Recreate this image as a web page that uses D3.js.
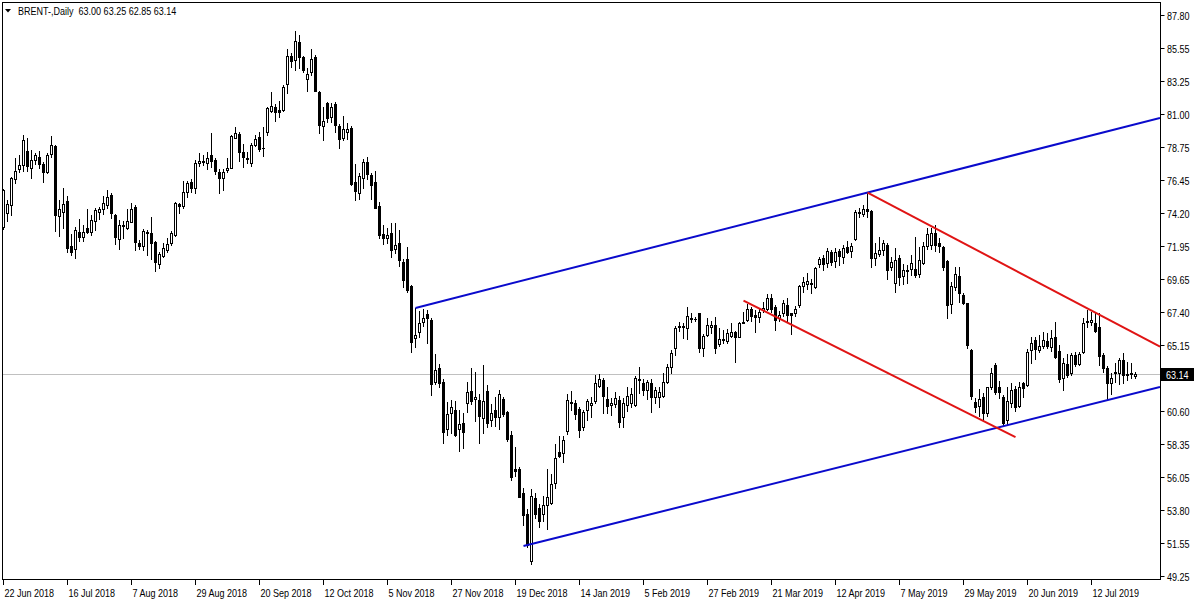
<!DOCTYPE html>
<html><head><meta charset="utf-8">
<script src="https://cdn.jsdelivr.net/npm/d3@7"></script>
<style>
html,body{margin:0;padding:0;background:#fff;}
svg{display:block;}
text{font-family:"Liberation Sans",Arial,sans-serif;font-size:11px;fill:#000;}
</style></head><body>
<svg id="chart" width="1200" height="600"></svg>
<script>
const symbol = "BRENT-,Daily";
const open = [73.21,74.21,74.72,76.51,77.24,77.47,78.45,77.31,77.81,78.04,77.54,77.03,78.22,78.80,74.01,74.24,75.02,71.92,71.70,72.91,72.56,73.14,72.86,73.62,74.28,74.44,74.74,75.43,74.06,72.38,73.37,73.14,73.60,74.58,72.11,71.90,72.91,72.80,72.18,70.66,71.26,71.65,72.15,72.68,74.79,74.70,75.61,76.30,75.93,77.60,77.76,77.65,78.18,77.83,77.03,76.62,77.15,77.31,79.37,79.62,78.38,77.99,77.65,78.86,79.39,78.68,79.78,81.22,81.48,81.25,81.29,83.03,84.97,84.73,85.92,84.89,83.37,83.89,84.89,82.51,80.19,81.74,80.79,81.67,80.19,79.36,79.79,80.05,76.30,75.54,76.57,77.69,76.78,76.33,74.66,72.75,72.51,72.84,71.72,72.15,70.84,71.01,69.17,65.59,65.99,66.69,67.26,66.83,62.58,63.54,62.61,59.36,60.44,60.63,59.32,59.75,61.15,61.94,61.39,61.34,60.10,61.99,59.96,60.68,60.20,61.42,60.51,58.96,56.57,56.57,54.97,53.52,50.30,54.61,53.90,53.52,54.11,54.26,55.62,57.76,57.72,59.24,61.15,61.16,60.73,59.47,60.66,61.00,61.28,62.31,62.72,61.39,61.00,61.05,61.35,60.20,61.00,61.12,61.00,62.79,62.54,62.03,62.54,61.58,61.58,61.62,62.61,63.64,64.90,66.38,66.38,66.27,67.00,66.93,67.30,64.90,65.81,66.34,66.50,65.19,65.47,65.42,65.77,66.04,65.70,66.66,66.84,67.60,67.19,67.07,67.53,67.58,68.33,67.76,66.96,67.35,67.87,67.30,67.30,67.87,69.20,69.32,69.36,69.09,70.69,71.08,70.74,71.54,70.92,71.58,71.15,71.88,71.58,72.41,74.22,74.10,74.45,74.36,71.08,71.38,71.65,71.99,70.46,69.41,71.08,69.86,70.28,70.33,70.33,70.00,70.78,71.93,71.99,72.80,72.16,71.84,70.92,67.94,69.13,69.86,68.56,67.99,64.78,61.18,60.93,61.53,60.48,62.26,63.75,62.26,61.57,59.97,61.16,62.10,60.93,62.49,62.38,64.78,65.47,64.78,65.06,65.42,64.97,65.70,64.74,62.83,63.82,63.18,64.44,63.82,64.67,66.73,66.73,66.66,66.38,64.44,63.52,62.54,63.18,63.22,64.09,63.13,63.13,63.00];
const high = [75.85,75.09,76.64,77.95,78.18,79.55,79.37,78.52,78.34,78.45,77.72,78.31,79.51,78.85,75.09,75.89,75.34,72.75,73.25,73.78,73.37,74.49,74.06,74.56,74.60,75.38,75.77,75.54,74.10,73.71,73.67,74.49,74.86,74.74,72.34,73.09,73.02,73.89,72.27,71.49,72.11,72.45,72.98,74.97,74.90,76.41,76.39,76.53,77.83,78.29,78.18,78.41,79.71,77.95,77.22,77.22,77.95,79.55,80.10,79.73,78.91,78.41,79.02,79.55,79.78,80.10,81.50,82.53,81.66,81.89,82.99,85.46,85.20,86.68,86.40,85.01,84.13,85.44,85.08,82.58,81.46,81.82,81.74,81.82,80.31,80.86,80.36,80.14,77.57,76.97,77.93,78.05,76.97,77.09,74.94,73.39,73.15,73.51,73.51,73.03,71.01,71.84,69.22,67.67,67.43,67.59,67.55,66.95,64.49,63.85,62.82,61.23,61.34,61.30,60.63,60.44,62.58,63.54,63.30,61.77,63.73,62.35,61.10,61.58,62.06,61.58,60.58,59.24,58.12,56.76,55.33,53.83,55.26,54.95,54.23,54.78,56.57,56.26,58.29,58.84,58.84,61.77,61.93,61.35,60.89,60.66,61.39,61.57,63.06,63.11,62.83,62.26,61.46,61.92,61.62,61.46,62.26,62.15,62.99,63.59,62.77,62.72,62.77,62.26,62.26,63.18,63.82,64.78,66.43,66.73,66.61,67.71,67.35,67.07,67.35,65.88,67.00,66.77,67.07,66.27,66.16,66.20,66.61,66.09,66.73,67.42,67.92,67.76,67.53,67.64,68.10,68.63,68.63,67.87,67.48,68.22,68.33,67.35,67.80,69.25,69.77,70.05,69.64,70.51,71.19,71.31,71.81,71.65,71.77,71.74,71.99,72.29,72.11,74.40,74.52,74.74,75.60,74.40,72.11,72.57,72.34,72.11,71.19,71.77,71.31,70.69,70.62,71.31,72.52,71.88,72.22,73.14,73.14,73.37,72.45,71.93,70.97,69.48,70.46,70.51,68.67,68.03,64.83,61.46,62.08,61.80,62.26,63.52,63.87,62.67,61.69,62.26,62.49,62.31,62.61,62.61,64.83,65.70,65.70,65.81,66.04,65.97,66.16,66.73,65.12,64.21,64.51,64.55,64.62,64.67,66.96,67.53,67.42,67.30,67.30,64.55,63.68,63.22,63.87,64.21,64.60,63.98,63.87,63.25];
const low = [73.10,73.67,74.08,76.23,77.03,77.10,77.10,76.62,77.54,77.26,76.30,76.96,78.06,72.98,72.63,73.18,71.49,71.31,71.12,72.27,72.27,72.80,72.68,73.02,73.78,74.10,74.54,73.87,72.06,71.72,72.45,73.09,73.55,71.65,71.72,71.65,71.31,71.03,70.21,70.39,71.15,71.53,71.99,72.63,74.17,74.56,75.29,75.66,75.54,77.44,77.49,77.22,77.33,76.85,75.59,75.77,77.03,77.26,79.32,77.79,77.33,77.60,77.44,78.80,78.48,78.13,79.55,81.11,80.54,80.81,81.20,82.46,84.25,84.01,84.13,83.89,82.60,83.65,82.58,79.71,79.19,80.43,80.43,79.76,78.64,79.19,79.31,76.14,75.06,75.18,75.90,76.50,75.18,74.52,72.51,72.08,72.13,71.20,71.44,70.53,69.10,68.79,64.64,64.97,65.69,66.45,65.23,61.70,62.42,62.23,58.41,58.91,59.08,58.84,57.81,58.05,60.51,61.10,59.91,58.41,59.08,59.48,59.55,59.55,59.32,60.27,58.53,55.86,56.14,54.66,52.75,51.27,50.08,53.23,52.64,53.04,52.51,54.19,55.33,57.41,57.10,59.00,60.65,60.02,58.83,59.28,59.97,60.20,61.12,62.26,60.48,60.43,60.31,60.89,59.51,59.51,60.61,60.89,60.93,61.80,61.69,61.42,60.54,61.12,60.85,61.58,62.54,63.18,64.44,66.11,65.58,65.51,66.73,66.80,64.67,64.39,65.74,65.93,64.55,65.06,65.24,65.24,65.70,63.98,65.65,66.61,66.77,66.80,66.04,66.73,67.42,67.53,67.42,66.16,66.80,67.12,66.73,65.88,67.12,67.76,68.79,68.95,68.67,69.02,70.51,70.28,70.51,70.62,70.51,70.62,70.74,71.42,71.19,72.34,73.94,73.99,73.94,70.51,70.62,71.24,71.31,69.64,70.28,68.79,69.25,69.29,69.36,69.93,69.77,69.82,70.69,71.70,71.70,71.61,71.54,70.28,66.96,67.30,68.90,68.10,67.94,64.90,61.39,60.54,60.25,59.97,60.25,62.08,61.76,61.46,59.63,59.63,60.84,60.61,60.84,61.57,62.31,63.87,64.14,64.67,64.90,64.90,64.74,64.21,62.61,62.03,62.90,63.06,63.68,63.75,64.55,66.38,66.50,66.04,63.75,63.29,61.35,61.76,62.61,62.44,62.54,62.72,62.83,62.85];
const close = [75.77,74.81,76.57,77.08,77.49,79.18,77.40,77.83,78.18,77.54,77.03,78.18,78.84,74.06,74.44,74.81,71.76,71.53,73.02,72.52,72.91,72.86,73.71,74.38,74.49,74.86,75.31,74.17,72.52,73.37,73.28,73.64,74.47,72.18,71.95,72.96,72.80,72.11,70.80,71.35,71.81,72.04,72.80,74.86,74.65,75.61,76.25,75.89,77.65,77.76,77.67,77.97,77.76,77.10,76.57,76.99,77.26,79.48,79.67,78.41,78.06,77.88,78.86,79.28,78.59,78.64,81.38,81.55,81.11,81.16,82.83,84.98,84.61,85.99,84.89,84.01,83.73,84.80,82.60,80.26,80.50,80.74,81.51,80.26,79.29,79.95,80.00,76.19,75.71,76.73,77.69,76.85,76.09,74.54,72.65,72.51,72.70,71.65,72.01,70.94,69.58,68.93,65.35,65.81,66.66,66.99,66.99,62.42,63.42,62.54,59.15,60.39,60.87,58.96,59.67,59.15,61.89,61.27,61.53,60.27,61.30,59.75,60.44,60.15,61.77,60.39,58.65,56.05,56.45,54.71,53.42,51.37,54.78,53.52,53.04,54.11,54.71,55.57,57.34,57.48,58.60,61.34,61.22,60.38,59.28,60.54,61.28,61.12,62.54,62.77,61.62,60.93,61.12,61.46,59.86,61.12,61.62,61.76,62.88,62.72,62.03,62.56,61.58,62.03,61.92,62.56,63.59,64.55,66.32,66.43,66.45,67.14,66.89,66.89,64.90,65.77,66.50,66.50,64.90,65.54,65.54,65.93,66.00,65.70,66.61,66.73,67.60,67.12,67.07,67.42,67.64,68.33,67.58,66.84,67.19,67.99,67.19,67.19,67.60,69.18,69.43,69.54,69.29,70.39,71.03,70.69,71.61,70.85,71.49,71.26,71.77,71.54,71.93,74.24,74.29,74.47,74.33,71.08,71.47,71.65,72.11,70.28,70.85,70.97,69.77,70.28,70.21,70.78,69.93,70.97,71.93,72.75,72.80,71.99,71.93,70.46,67.87,69.18,69.98,68.67,68.03,65.12,61.62,60.89,61.39,60.48,62.22,63.22,61.92,61.92,59.74,61.30,62.03,60.89,62.22,62.15,64.67,65.24,64.83,65.08,65.47,65.06,65.58,64.32,62.77,63.87,63.06,64.44,63.82,64.48,66.66,66.80,66.84,66.11,64.37,63.52,62.54,62.83,63.29,64.09,63.06,63.06,63.22,63.14];

const dateLabels = ["22 Jun 2018","16 Jul 2018","7 Aug 2018","29 Aug 2018","20 Sep 2018","12 Oct 2018","5 Nov 2018","27 Nov 2018","19 Dec 2018","14 Jan 2019","5 Feb 2019","27 Feb 2019","21 Mar 2019","12 Apr 2019","7 May 2019","29 May 2019","20 Jun 2019","12 Jul 2019"];
const dateLabelBars = [0,16,32,48,64,80,96,112,128,144,160,176,192,208,224,240,256,272];
const priceTicks = [87.80,85.55,83.25,81.00,78.75,76.45,74.20,71.95,69.65,67.40,65.15,62.85,60.60,58.35,56.05,53.80,51.55,49.25];

// trend lines: anchor points given as [bar index, price]
const trendBars   = [[103,216],[130,250],[216,272],[185,253]];
const trendPrices = [[67.67,75.60],[51.31,59.55],[75.60,67.49],[68.17,58.80]];
const trendRay    = [true,true,true,false];
const trendColors = ["#0a0acc","#0a0acc","#e01414","#e01414"];

const W = 1200, H = 600;
const plot = {left: 2, top: 2, right: 1160, bottom: 579};
const barStep = 4;
const n = open.length;
const condense = 0.82;

const svg = d3.select("#chart");
svg.append("rect").attr("width", W).attr("height", H).attr("fill", "#fff");

const x = d3.scaleLinear().domain([0, n - 1]).range([3.5, 3.5 + barStep * (n - 1)]);
const y = d3.scaleLinear().domain([49.25, 87.80]).range([576, 15]);
const yy = v => Math.round(y(v));

function label(parent, tx, ty, str, color) {
  return parent.append("text")
    .attr("transform", `translate(${tx},${ty}) scale(${condense},1)`)
    .attr("xml:space", "preserve")
    .style("white-space", "pre")
    .style("fill", color || "#000")
    .text(str);
}

svg.append("defs").append("clipPath").attr("id", "clip")
  .append("rect").attr("x", plot.left).attr("y", plot.top)
  .attr("width", plot.right - plot.left).attr("height", plot.bottom - plot.top);

// current price line
const lastPrice = close[n - 1];
svg.append("line")
  .attr("x1", plot.left).attr("x2", plot.right)
  .attr("y1", yy(lastPrice) + 0.5).attr("y2", yy(lastPrice) + 0.5)
  .attr("stroke", "#c0c0c0").attr("stroke-width", 1);

// candles
const g = svg.append("g").attr("clip-path", "url(#clip)");
const bars = d3.range(n);
g.selectAll("line.wick").data(bars).join("line")
  .attr("class", "wick")
  .attr("x1", i => x(i)).attr("x2", i => x(i))
  .attr("y1", i => yy(high[i])).attr("y2", i => yy(low[i]) + 1)
  .attr("stroke", "#000").attr("stroke-width", 1).attr("shape-rendering", "crispEdges");

g.selectAll("rect.body").data(bars).join("rect")
  .attr("class", "body")
  .attr("shape-rendering", "crispEdges")
  .each(function(i) {
    const up = close[i] >= open[i];
    const top = yy(Math.max(open[i], close[i]));
    const bot = yy(Math.min(open[i], close[i]));
    const s = d3.select(this);
    if (up) {
      s.attr("x", x(i) - 1).attr("y", top + 0.5).attr("width", 2).attr("height", Math.max(bot - top, 0))
       .attr("fill", "#fff").attr("stroke", "#000").attr("stroke-width", 1);
    } else {
      s.attr("x", x(i) - 1.5).attr("y", top).attr("width", 3).attr("height", Math.max(bot - top + 1, 1))
       .attr("fill", "#000");
    }
  });

// trend lines
const lg = svg.append("g").attr("clip-path", "url(#clip)");
trendBars.forEach((tb, k) => {
  const [b1, b2] = tb, [p1, p2] = trendPrices[k];
  const slope = (p2 - p1) / (b2 - b1);
  const bEnd = trendRay[k] ? x.invert(plot.right) : b2;
  const pEnd = p1 + slope * (bEnd - b1);
  lg.append("line")
    .attr("x1", x(b1)).attr("y1", y(p1))
    .attr("x2", x(bEnd)).attr("y2", y(pEnd))
    .attr("stroke", trendColors[k]).attr("stroke-width", 2);
});

// frame
svg.append("rect")
  .attr("x", plot.left + 0.5).attr("y", plot.top + 0.5)
  .attr("width", plot.right - plot.left).attr("height", plot.bottom - plot.top)
  .attr("fill", "none").attr("stroke", "#000").attr("stroke-width", 1);

// right price axis (the tick hidden behind the current-price box is skipped)
const ly = yy(lastPrice) + 0.5;
const ya = svg.append("g");
priceTicks.forEach(p => {
  const py = yy(p) + 0.5;
  ya.append("line").attr("x1", plot.right + 0.5).attr("x2", plot.right + 4.5)
    .attr("y1", py).attr("y2", py).attr("stroke", "#000").attr("stroke-width", 1);
  if (Math.abs(py - ly) > 8) label(ya, plot.right + 7, py + 4, p.toFixed(2));
});

// current price label
svg.append("rect").attr("x", plot.right + 1).attr("y", ly - 6.5).attr("width", 33).attr("height", 13).attr("fill", "#000");
label(svg, plot.right + 6, ly + 4, lastPrice.toFixed(2), "#fff");

// bottom date axis
const xa = svg.append("g");
dateLabelBars.forEach((b, k) => {
  const tx = x(b);
  xa.append("line").attr("x1", tx).attr("x2", tx).attr("y1", plot.bottom + 0.5).attr("y2", plot.bottom + 6)
    .attr("stroke", "#000").attr("stroke-width", 1);
  label(xa, tx + 1, 597, dateLabels[k]);
});

// header
svg.append("path").attr("d", "M5,9 L11,9 L8,12.5 Z").attr("fill", "#000");
label(svg, 18, 15, symbol + "  " + [open[n-1], high[n-1], low[n-1], close[n-1]].map(v => v.toFixed(2)).join(" "));
</script>
</body></html>
